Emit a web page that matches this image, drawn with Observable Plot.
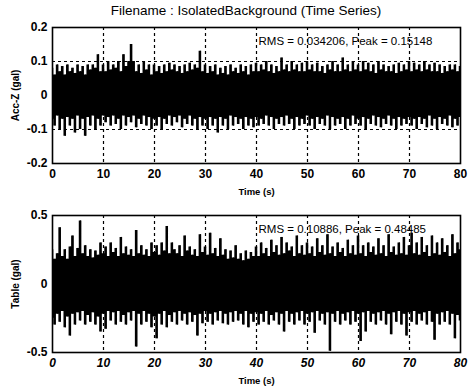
<!DOCTYPE html>
<html>
<head>
<meta charset="utf-8">
<script src="https://cdn.jsdelivr.net/npm/d3@7"></script>
<script src="https://cdn.jsdelivr.net/npm/@observablehq/plot@0.6"></script>
<style>
  html, body { margin: 0; padding: 0; background: #fff; }
  #wrap { position: relative; width: 476px; height: 389px; overflow: hidden; font-family: "Liberation Sans", Arial, sans-serif; }
  #title { position: absolute; left: 0; top: 3px; width: 492px; text-align: center; font-size: 13.5px; color: #000; }
  .p { position: absolute; left: 0; }
</style>
</head>
<body>
<div id="wrap">
  <div id="title">Filename : IsolatedBackground (Time Series)</div>
</div>
<script>
const timeStep = 0.5;
const xTicks = [0, 10, 20, 30, 40, 50, 60, 70, 80];
const gridX = [10, 20, 30, 40, 50, 60, 70];
const accTicks = [-0.2, -0.1, 0, 0.1, 0.2];
const accGrid = [-0.1, 0.1];
const tableTicks = [-0.5, 0, 0.5];
const accLabel = "RMS = 0.034206, Peak = 0.15148";
const tableLabel = "RMS = 0.10886, Peak = 0.48485";

const accHi = [
  0.08,0.06,0.09,0.07,0.085,0.06,0.09,0.07,0.08,0.065,0.09,0.07,0.085,0.06,0.09,0.075,0.09,0.08,0.12,0.07,
  0.09,0.07,0.1,0.075,0.09,0.08,0.1,0.07,0.12,0.085,0.1,0.15,0.1,0.07,0.09,0.065,0.1,0.075,0.09,0.06,
  0.09,0.07,0.085,0.065,0.09,0.07,0.095,0.075,0.09,0.07,0.085,0.065,0.09,0.07,0.095,0.075,0.09,0.08,0.13,0.07,
  0.09,0.065,0.085,0.07,0.09,0.06,0.08,0.065,0.085,0.06,0.09,0.07,0.08,0.065,0.09,0.07,0.085,0.06,0.09,0.07,
  0.095,0.07,0.09,0.075,0.1,0.07,0.09,0.065,0.085,0.07,0.11,0.075,0.09,0.07,0.1,0.075,0.09,0.07,0.095,0.07,
  0.1,0.075,0.09,0.07,0.095,0.07,0.085,0.065,0.09,0.075,0.1,0.07,0.09,0.07,0.11,0.075,0.09,0.07,0.1,0.075,
  0.09,0.07,0.1,0.075,0.095,0.07,0.09,0.065,0.1,0.075,0.09,0.07,0.085,0.07,0.09,0.065,0.095,0.07,0.09,0.075,
  0.1,0.07,0.095,0.075,0.09,0.07,0.1,0.075,0.09,0.07,0.095,0.07,0.09,0.065,0.085,0.07,0.09,0.075,0.09,0.07,0.085
];
const accLo = [
  -0.07,-0.09,-0.06,-0.1,-0.07,-0.12,-0.065,-0.09,-0.07,-0.11,-0.06,-0.1,-0.07,-0.12,-0.065,-0.09,-0.06,-0.1,-0.07,-0.09,
  -0.06,-0.08,-0.065,-0.09,-0.06,-0.085,-0.07,-0.1,-0.06,-0.09,-0.065,-0.08,-0.06,-0.095,-0.07,-0.085,-0.06,-0.09,-0.065,-0.1,
  -0.07,-0.09,-0.065,-0.1,-0.07,-0.085,-0.06,-0.09,-0.065,-0.08,-0.06,-0.095,-0.07,-0.085,-0.06,-0.09,-0.07,-0.1,-0.065,-0.09,
  -0.07,-0.1,-0.065,-0.09,-0.07,-0.11,-0.065,-0.09,-0.07,-0.1,-0.06,-0.09,-0.065,-0.085,-0.07,-0.1,-0.065,-0.09,-0.07,-0.095,
  -0.065,-0.09,-0.07,-0.085,-0.06,-0.09,-0.065,-0.1,-0.07,-0.085,-0.065,-0.09,-0.06,-0.085,-0.07,-0.1,-0.065,-0.09,-0.07,-0.085,
  -0.06,-0.09,-0.07,-0.1,-0.065,-0.085,-0.07,-0.09,-0.06,-0.1,-0.065,-0.09,-0.07,-0.085,-0.065,-0.1,-0.07,-0.09,-0.06,-0.085,
  -0.07,-0.09,-0.065,-0.1,-0.07,-0.085,-0.06,-0.09,-0.065,-0.095,-0.07,-0.085,-0.06,-0.09,-0.07,-0.1,-0.065,-0.09,-0.07,-0.085,
  -0.065,-0.09,-0.07,-0.1,-0.065,-0.085,-0.07,-0.095,-0.06,-0.09,-0.07,-0.1,-0.065,-0.085,-0.07,-0.09,-0.06,-0.095,-0.07,-0.09,-0.065
];
const tableHi = [
  0.25,0.18,0.22,0.41,0.2,0.25,0.18,0.27,0.35,0.2,0.26,0.46,0.22,0.28,0.2,0.25,0.19,0.24,0.21,0.3,
  0.22,0.27,0.2,0.3,0.23,0.26,0.2,0.34,0.22,0.27,0.21,0.25,0.2,0.39,0.22,0.28,0.21,0.25,0.2,0.3,
  0.23,0.28,0.21,0.3,0.24,0.42,0.22,0.3,0.25,0.22,0.28,0.2,0.35,0.24,0.27,0.21,0.25,0.2,0.36,0.23,
  0.27,0.21,0.37,0.22,0.26,0.2,0.33,0.21,0.25,0.18,0.24,0.19,0.28,0.18,0.22,0.17,0.24,0.18,0.23,0.2,
  0.27,0.2,0.3,0.22,0.26,0.2,0.32,0.23,0.28,0.21,0.34,0.22,0.3,0.24,0.27,0.2,0.35,0.22,0.28,0.21,
  0.3,0.22,0.27,0.2,0.33,0.23,0.28,0.21,0.36,0.22,0.27,0.2,0.3,0.23,0.26,0.2,0.32,0.22,0.28,0.21,
  0.35,0.22,0.28,0.2,0.3,0.23,0.27,0.21,0.33,0.22,0.28,0.2,0.36,0.23,0.27,0.21,0.3,0.22,0.34,0.21,
  0.28,0.37,0.22,0.3,0.21,0.34,0.23,0.28,0.2,0.35,0.22,0.3,0.21,0.33,0.23,0.28,0.2,0.36,0.22,0.3,0.25
];
const tableLo = [
  -0.25,-0.3,-0.22,-0.28,-0.2,-0.32,-0.24,-0.38,-0.22,-0.3,-0.21,-0.27,-0.2,-0.3,-0.23,-0.28,-0.21,-0.3,-0.24,-0.35,
  -0.22,-0.33,-0.2,-0.27,-0.21,-0.3,-0.2,-0.28,-0.23,-0.3,-0.21,-0.27,-0.2,-0.46,-0.22,-0.3,-0.2,-0.28,-0.22,-0.32,
  -0.24,-0.4,-0.22,-0.3,-0.2,-0.32,-0.23,-0.28,-0.21,-0.3,-0.2,-0.27,-0.22,-0.3,-0.21,-0.28,-0.23,-0.38,-0.22,-0.29,
  -0.2,-0.28,-0.22,-0.3,-0.21,-0.27,-0.2,-0.29,-0.22,-0.3,-0.21,-0.28,-0.2,-0.27,-0.22,-0.3,-0.2,-0.32,-0.22,-0.28,
  -0.21,-0.3,-0.22,-0.28,-0.2,-0.3,-0.23,-0.27,-0.21,-0.3,-0.22,-0.35,-0.2,-0.28,-0.22,-0.3,-0.21,-0.27,-0.2,-0.3,
  -0.22,-0.28,-0.21,-0.36,-0.2,-0.27,-0.22,-0.3,-0.21,-0.49,-0.22,-0.28,-0.2,-0.3,-0.22,-0.27,-0.21,-0.3,-0.2,-0.28,
  -0.22,-0.42,-0.21,-0.35,-0.2,-0.28,-0.22,-0.3,-0.21,-0.27,-0.2,-0.3,-0.22,-0.37,-0.21,-0.28,-0.2,-0.3,-0.22,-0.38,
  -0.21,-0.28,-0.2,-0.3,-0.22,-0.27,-0.21,-0.3,-0.2,-0.28,-0.41,-0.22,-0.3,-0.21,-0.28,-0.2,-0.3,-0.22,-0.4,-0.23,-0.27
];

const toRows = (hi, lo) => hi.map((h, i) => ({t: i * timeStep, hi: h, lo: lo[i]}));
const fmt = d => String(d);

function panel({rows, yDomain, yTicks, yGrid, yLabel, note, top, height, mt, mb, italicX}) {
  const p = Plot.plot({
    width: 476, height,
    marginLeft: 52, marginRight: 16, marginTop: mt, marginBottom: mb,
    style: {fontFamily: '"Liberation Sans", Arial, sans-serif', color: "#000", background: "transparent", overflow: "visible"},
    x: {type: "linear", domain: [0, 80]},
    y: {type: "linear", domain: yDomain},
    marks: [
      Plot.ruleX(gridX, {stroke: "#000", strokeWidth: 1.2, strokeDasharray: "3,3"}),
      Plot.ruleY(yGrid, {stroke: "#000", strokeWidth: 1.2, strokeDasharray: "3,3"}),
      Plot.areaY(rows, {x: "t", y1: "lo", y2: "hi", fill: "#000", curve: "step"}),
      Plot.ruleX(rows, {x: "t", y1: "lo", y2: "hi", stroke: "#000", strokeWidth: 1}),
      Plot.frame({stroke: "#000", strokeWidth: 1.6}),
      Plot.axisX({ticks: xTicks, tickFormat: fmt, tickSize: 0, tickPadding: 6, label: null,
        fontSize: 12, fontWeight: "bold", fontStyle: italicX ? "italic" : "normal"}),
      Plot.axisY({ticks: yTicks, tickFormat: fmt, tickSize: 0, tickPadding: 5, label: null,
        fontSize: 12, fontWeight: "bold"}),
      Plot.text([yLabel], {frameAnchor: "left", dx: -37, rotate: -90, textAnchor: "middle",
        fontSize: 10, fontWeight: "bold"}),
      Plot.text(["Time (s)"], {frameAnchor: "bottom", dy: 28, lineAnchor: "middle", fontSize: 9.5, fontWeight: "bold"}),
      Plot.text([note], {frameAnchor: "top-left", dx: 206, dy: 9, textAnchor: "start", lineAnchor: "top", fontSize: 11.5})
    ]
  });
  p.classList.add("p");
  p.style.top = top + "px";
  document.getElementById("wrap").appendChild(p);
}

panel({rows: toRows(accHi, accLo), yDomain: [-0.2, 0.2], yTicks: accTicks, yGrid: accGrid,
  yLabel: "Acc-Z (gal)", note: accLabel, top: 0, height: 200, mt: 27, mb: 37, italicX: false});
panel({rows: toRows(tableHi, tableLo), yDomain: [-0.5, 0.5], yTicks: tableTicks, yGrid: [],
  yLabel: "Table (gal)", note: tableLabel, top: 200, height: 189, mt: 15, mb: 37, italicX: true});
</script>
</body>
</html>
